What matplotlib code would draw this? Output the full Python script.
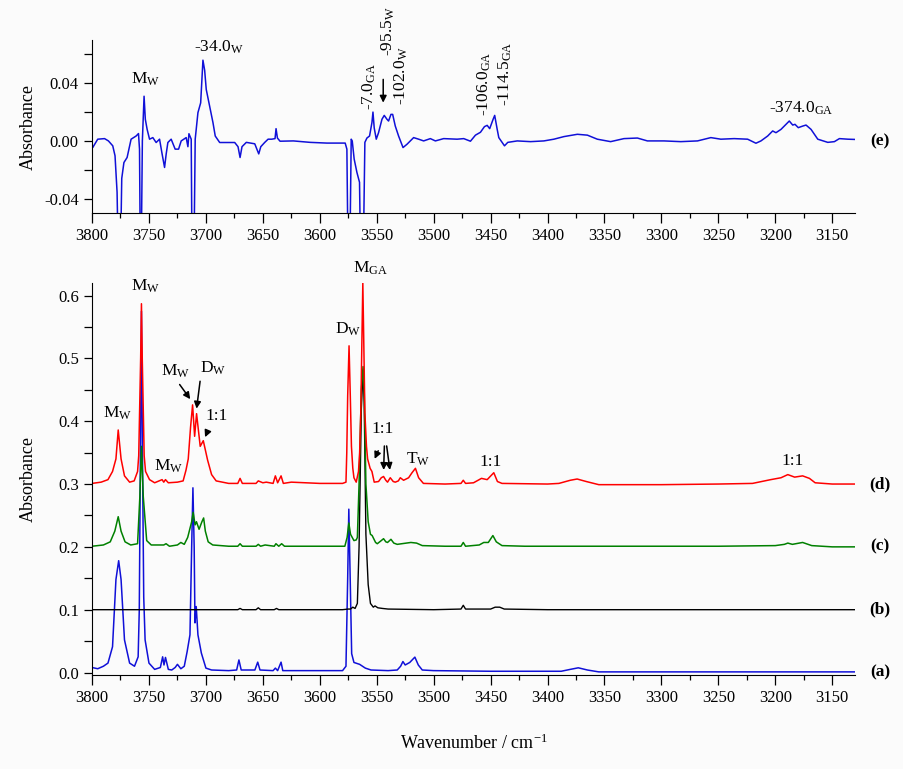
import numpy as np
import matplotlib
matplotlib.use('Agg')
from matplotlib import pyplot as plt
from matplotlib.ticker import MultipleLocator
import matplotlib.transforms as mtransforms

plt.rcParams['font.family'] = ['Liberation Serif', 'DejaVu Serif']
plt.rcParams['mathtext.fontset'] = 'custom'
plt.rcParams['mathtext.rm'] = 'Liberation Serif'
plt.rcParams['mathtext.it'] = 'Liberation Serif:italic'
plt.rcParams['axes.unicode_minus'] = False

# ---- (e) difference spectrum ----
wn_e = [3800, 3799.4, 3795, 3789, 3785.6, 3781.8, 3779.8, 3778, 3777, 3775, 3773.9, 3772, 3769.2,
        3765.7, 3761.3, 3759.2, 3758.3, 3757.6, 3756.8, 3755.8, 3754.3, 3753.2, 3751.6, 3749.5,
        3746.6, 3743.7, 3740.7, 3738.7, 3736.3, 3734.9, 3733.4, 3730.5, 3727, 3724, 3721.7, 3717.3,
        3715.8, 3714.9, 3712.9, 3712.2, 3710.5, 3709.4, 3707, 3704.6, 3702.6, 3701.1, 3699.7, 3696.7,
        3693.8, 3691.8, 3687.9, 3680.6, 3674.7, 3671.8, 3670, 3668.3, 3664.5, 3657.1, 3653.6, 3651.8,
        3648.3, 3645.4, 3642.2, 3639.3, 3638.4, 3637.2, 3634.9, 3623.2, 3608.5, 3593.8, 3577.7,
        3576.2, 3575.2, 3573.6, 3572.4, 3571.5, 3569.8, 3567.4, 3565.1, 3564.2, 3561.8, 3560.4,
        3558.6, 3556.3, 3554.2, 3553.3, 3552.2, 3550.4, 3548.4, 3545.4, 3543.4, 3541, 3539.6, 3537.5,
        3536, 3533.7, 3530.8, 3526.9, 3523.4, 3517.6, 3513.2, 3508.8, 3502.9, 3498.5, 3491.2, 3479.4,
        3473.6, 3467.7, 3463.3, 3458.9, 3455.4, 3453, 3450.8, 3447.8, 3446.4, 3444.2, 3442.8, 3439.8,
        3437.8, 3434.9, 3426.6, 3414.9, 3403.2, 3394.4, 3385.6, 3373.8, 3365, 3356.3, 3344.6, 3332.9,
        3321.1, 3312.3, 3297.7, 3283, 3268.3, 3256.6, 3247.8, 3236.1, 3224.3, 3217, 3212.6, 3206.7,
        3202.3, 3199.4, 3195, 3187.7, 3184.7, 3182.7, 3179.8, 3175.9, 3173, 3168.6, 3162.7, 3153.9,
        3148.1, 3143.7, 3136.3, 3129]
ab_e = [-0.004, -0.0046, 0.0012, 0.0016, 0.0, -0.0034, -0.0103, -0.0356, -0.08, -0.08, -0.026, -0.015,
        -0.0115, 0.0012, 0.0034, 0.0051, -0.0057, -0.08, -0.08, 0.0, 0.031, 0.015, 0.008, 0.0012,
        0.0023, -0.0011, 0.0012, -0.008, -0.0184, -0.0092, -0.0011, 0.0012, -0.0057, -0.0057, 0.0,
        0.0023, -0.004, 0.005, 0.0012, -0.08, -0.08, 0.0012, 0.0196, 0.0264, 0.056, 0.049, 0.0357,
        0.024, 0.0127, 0.0034, -0.0011, -0.0011, -0.0011, -0.004, -0.0115, -0.004, -0.001, -0.002,
        -0.009, -0.004, -0.001, 0.0012, 0.0012, 0.0016, 0.0085, 0.002, -0.0002, 0.0, -0.001, -0.0015,
        -0.0015, -0.0057, -0.08, -0.08, 0.0012, 0.0, -0.0126, -0.0218, -0.0287, -0.08, -0.08, -0.001,
        0.002, 0.0034, 0.0127, 0.02, 0.009, 0.0012, 0.0057, 0.015, 0.0177, 0.015, 0.0138, 0.0184,
        0.0184, 0.0103, 0.0034, -0.0046, -0.0023, 0.0023, 0.0012, 0.0, 0.0016, 0.0, 0.0016, 0.0012,
        0.0016, -0.0002, 0.004, 0.006, 0.0099, 0.0108, 0.0085, 0.015, 0.0177, 0.008, 0.0023, -0.0011,
        -0.0034, -0.001, 0.0, -0.0005, 0.0, 0.0012, 0.003, 0.0046, 0.004, 0.0012, -0.0005, 0.0016,
        0.002, 0.0, 0.0, -0.0005, 0.0, 0.0023, 0.0012, 0.0016, 0.0012, -0.0016, 0.0, 0.0034, 0.0069,
        0.0057, 0.008, 0.0138, 0.011, 0.0115, 0.0092, 0.0103, 0.011, 0.008, 0.0012, -0.001, -0.0005,
        0.0016, 0.0012, 0.001]

# ---- (a) ----
wn_a = [3800, 3795, 3790, 3786, 3782, 3779, 3776.6, 3774.5, 3771.5, 3767, 3762.7, 3759.5, 3758.5,
        3757.7, 3756.6, 3755.5, 3754.6, 3753.4, 3750, 3745, 3740, 3738, 3736.8, 3735.5, 3733, 3730,
        3727, 3725, 3722, 3719, 3716.5, 3714, 3712.5, 3711.4, 3710.3, 3709.6, 3708.5, 3707, 3704,
        3700, 3695, 3680, 3673, 3671, 3669, 3657, 3654.5, 3652.5, 3641, 3639, 3637, 3634, 3632.5,
        3620, 3600, 3580, 3577, 3575.5, 3574.5, 3573.3, 3572, 3570, 3565, 3560, 3555, 3540, 3532,
        3529, 3527, 3525, 3521, 3516.5, 3513.5, 3510, 3500, 3450, 3400, 3388, 3380, 3373, 3365, 3355,
        3300, 3250, 3200, 3150, 3130]
ab_a = [0.008, 0.006, 0.01, 0.015, 0.041, 0.148, 0.178, 0.148, 0.052, 0.015, 0.01, 0.025, 0.1,
        0.3, 0.575, 0.3, 0.12, 0.052, 0.015, 0.005, 0.008, 0.025, 0.012, 0.024, 0.005, 0.004,
        0.008, 0.013, 0.006, 0.01, 0.033, 0.06, 0.2, 0.294, 0.2, 0.079, 0.105, 0.06, 0.031,
        0.007, 0.004, 0.003, 0.004, 0.02, 0.004, 0.004, 0.0165, 0.004, 0.003, 0.007, 0.003, 0.0165, 0.003,
        0.003, 0.003, 0.003, 0.01, 0.15, 0.26, 0.15, 0.03, 0.016, 0.013, 0.007, 0.004, 0.003, 0.004,
        0.01, 0.0175, 0.012, 0.016, 0.0245, 0.012, 0.004, 0.003, 0.002, 0.002, 0.002, 0.005, 0.0075, 0.004, 0.001,
        0.001, 0.001, 0.001, 0.001, 0.001]

# ---- (b) ----
wn_b = [3800, 3700, 3672, 3670, 3668, 3656, 3654, 3652, 3640, 3638, 3636, 3580, 3575, 3573, 3571,
        3569, 3567, 3565.5, 3563.5, 3562, 3561, 3559.5, 3557.5, 3555.5, 3553, 3551.5, 3549, 3545,
        3540, 3500, 3476, 3474, 3472, 3450, 3446, 3442, 3438, 3400, 3300, 3200, 3130]
ab_b = [0.1, 0.1, 0.1, 0.102, 0.1, 0.1, 0.103, 0.1, 0.1, 0.102, 0.1, 0.1, 0.101, 0.101, 0.104,
        0.102, 0.11, 0.2, 0.42, 0.48, 0.43, 0.22, 0.14, 0.11, 0.104, 0.106, 0.103, 0.102,
        0.101, 0.1, 0.101, 0.107, 0.101, 0.101, 0.104, 0.104, 0.101, 0.1, 0.1, 0.1, 0.1]

# ---- (c) ----
wn_c = [3800, 3790, 3784, 3780, 3777, 3774.5, 3771, 3766, 3760, 3758, 3756.6, 3755, 3752, 3748,
        3737, 3735, 3732, 3725, 3722, 3719, 3716, 3712.5, 3711.2, 3709.5, 3708.3, 3706, 3703.5,
        3702, 3700.5, 3698, 3694, 3680, 3672, 3670, 3668, 3656, 3654, 3652, 3648, 3640, 3638.5,
        3636, 3633.5, 3631, 3600, 3578, 3576, 3574.5, 3573, 3570, 3568, 3567, 3565.5, 3563.5, 3562,
        3561, 3559.5, 3557.5, 3555.5, 3554, 3551, 3549.5, 3546, 3544, 3542, 3540.5, 3537.5, 3535,
        3532, 3528, 3520, 3515, 3510, 3490, 3476, 3474, 3472, 3460, 3456, 3452, 3448, 3445, 3440,
        3420, 3380, 3300, 3250, 3200, 3192, 3189, 3185, 3176, 3168, 3150, 3130]
ab_c = [0.201, 0.203, 0.208, 0.225, 0.248, 0.225, 0.208, 0.203, 0.205, 0.28, 0.36, 0.28, 0.21, 0.203,
        0.203, 0.205, 0.201, 0.203, 0.207, 0.204, 0.215, 0.24, 0.255, 0.235, 0.24, 0.228, 0.24,
        0.246, 0.225, 0.208, 0.203, 0.201, 0.201, 0.205, 0.201, 0.201, 0.204, 0.201, 0.203, 0.201, 0.205,
        0.201, 0.205, 0.201, 0.201, 0.201, 0.215, 0.238, 0.22, 0.21, 0.211, 0.215, 0.3, 0.45, 0.487,
        0.45, 0.3, 0.24, 0.22, 0.218, 0.207, 0.205, 0.21, 0.213, 0.208, 0.207, 0.212, 0.206,
        0.204, 0.205, 0.207, 0.206, 0.202, 0.201, 0.201, 0.207, 0.201, 0.203, 0.207, 0.207, 0.218, 0.208, 0.202,
        0.201, 0.201, 0.201, 0.201, 0.202, 0.204, 0.206, 0.204, 0.207, 0.202, 0.2, 0.2]

# ---- (d) ----
wn_d = [3800, 3792, 3786, 3782, 3779, 3777, 3774.5, 3771.5, 3767, 3763, 3760, 3759, 3757.3, 3756.6,
        3755.9, 3754.2, 3753, 3749.5, 3745, 3738.5, 3737, 3735.5, 3733, 3725, 3720, 3717.5, 3715.5,
        3713.5, 3711.7, 3709.9, 3708.2, 3705, 3702.3, 3698.5, 3695, 3691, 3680, 3672, 3670, 3668,
        3656, 3654, 3650, 3647, 3641, 3639, 3637, 3634, 3632, 3625, 3600, 3580, 3577, 3576.3, 3575.5,
        3574.3, 3573.2, 3572.2, 3571, 3570, 3568, 3566, 3565, 3564, 3563, 3562.2, 3561.4, 3560.4,
        3559, 3558, 3555.8, 3554.2, 3552.2, 3548.4, 3546, 3544, 3542, 3540.5, 3538.1, 3535.5, 3533.7,
        3531, 3529.3, 3526.4, 3522, 3519, 3516, 3513.2, 3509, 3490, 3476, 3474, 3472, 3465, 3458,
        3453, 3447.2, 3444, 3440, 3400, 3390, 3380, 3374, 3366, 3355, 3300, 3250, 3220, 3204, 3195,
        3189, 3186, 3183, 3176, 3170, 3165, 3150, 3130]
ab_d = [0.301, 0.303, 0.307, 0.32, 0.34, 0.386, 0.34, 0.313, 0.303, 0.305, 0.32, 0.345, 0.5, 0.587,
        0.5, 0.345, 0.32, 0.307, 0.302, 0.307, 0.303, 0.307, 0.302, 0.303, 0.305, 0.322, 0.34,
        0.39, 0.426, 0.376, 0.412, 0.36, 0.369, 0.338, 0.315, 0.305, 0.301, 0.301, 0.309, 0.301,
        0.301, 0.305, 0.302, 0.303, 0.301, 0.313, 0.302, 0.313, 0.301, 0.303, 0.301, 0.301, 0.303, 0.35, 0.44,
        0.52, 0.44, 0.36, 0.325, 0.31, 0.303, 0.32, 0.35, 0.413, 0.53, 0.62, 0.53, 0.413,
        0.36, 0.34, 0.325, 0.32, 0.303, 0.304, 0.31, 0.312, 0.306, 0.303, 0.31, 0.304, 0.303,
        0.305, 0.31, 0.306, 0.31, 0.318, 0.325, 0.31, 0.301, 0.3, 0.301, 0.306, 0.301, 0.302, 0.309,
        0.307, 0.318, 0.304, 0.301, 0.3, 0.301, 0.306, 0.308, 0.304, 0.299, 0.299, 0.3, 0.301, 0.307, 0.31,
        0.315, 0.313, 0.311, 0.313, 0.309, 0.302, 0.3, 0.3]

bg = '#fbfbfb'
fig = plt.figure(figsize=(9.04, 7.69), dpi=100, facecolor=bg)
ax1 = fig.add_axes([0.1018, 0.723, 0.844, 0.225], facecolor=bg)
ax2 = fig.add_axes([0.1018, 0.1222, 0.844, 0.5098], facecolor=bg)

ax1.plot(wn_e, ab_e, color='#1010d8', lw=1.1)
ax2.plot(wn_a, ab_a, color='#1010d8', lw=1.1)
ax2.plot(wn_b, ab_b, color='black', lw=1.0)
ax2.plot(wn_c, ab_c, color='#008000', lw=1.1)
ax2.plot(wn_d, ab_d, color='#ff0000', lw=1.1)

for ax in (ax1, ax2):
    ax.set_xlim(3800, 3130)
    ax.spines['top'].set_visible(False)
    ax.spines['right'].set_visible(False)
    ax.xaxis.set_major_locator(MultipleLocator(50))
    ax.xaxis.set_minor_locator(MultipleLocator(25))
    ax.tick_params(axis='x', which='major', direction='out', length=7, width=0.9, labelsize=12)
    ax.tick_params(axis='x', which='minor', direction='out', length=3.5, width=0.9)
    ax.tick_params(axis='y', which='both', direction='out', length=6, width=0.9, labelsize=12)
    ax.set_ylabel('Absorbance', fontsize=13)

ax1.set_ylim(-0.05, 0.07)
ax1.yaxis.set_major_locator(MultipleLocator(0.04))
ax1.yaxis.set_minor_locator(MultipleLocator(0.02))
ax1.yaxis.set_major_formatter(plt.FormatStrFormatter('%.2f'))
ax1.yaxis.set_label_coords(-0.072, 0.5)

ax2.set_ylim(-0.004, 0.62)
ax2.yaxis.set_major_locator(MultipleLocator(0.1))
ax2.yaxis.set_minor_locator(MultipleLocator(0.05))
ax2.yaxis.set_major_formatter(plt.FormatStrFormatter('%.1f'))
ax2.yaxis.set_label_coords(-0.072, 0.5)
ax2.set_xlabel(r'Wavenumber / cm$^\mathregular{-1}$', fontsize=13, labelpad=20)

fs = 12.5
# top panel labels
ax1.text(3752.8, 0.0425, r'$\mathregular{M_W}$', fontsize=fs, ha='center', va='center')
ax1.text(3689, 0.0646, r'-34.0$\mathregular{_W}$', fontsize=fs, ha='center', va='center', clip_on=False)
ax1.text(3556.6, 0.0215, r'-7.0$\mathregular{_{GA}}$', fontsize=fs, rotation=90, ha='center', va='bottom')
ax1.text(3539.5, 0.059, r'-95.5$\mathregular{_W}$', fontsize=fs, rotation=90, ha='center', va='bottom',
         clip_on=False)
ax1.text(3528.4, 0.025, r'-102.0$\mathregular{_W}$', fontsize=fs, rotation=90, ha='center', va='bottom')
ax1.text(3455.4, 0.0175, r'-106.0$\mathregular{_{GA}}$', fontsize=fs, rotation=90, ha='center', va='bottom')
ax1.text(3437, 0.024, r'-114.5$\mathregular{_{GA}}$', fontsize=fs, rotation=90, ha='center', va='bottom')
ax1.text(3177.5, 0.0225, r'-374.0$\mathregular{_{GA}}$', fontsize=fs, ha='center', va='center')
ax1.annotate('', xy=(3544.3, 0.0246), xytext=(3544.3, 0.0446),
             arrowprops=dict(arrowstyle='-|>', color='black', lw=1.1, mutation_scale=10))

# bottom panel labels
ax2.text(3778, 0.412, r'$\mathregular{M_W}$', fontsize=fs, ha='center', va='center')
ax2.text(3753, 0.614, r'$\mathregular{M_W}$', fontsize=fs, ha='center', va='center', clip_on=False)
ax2.text(3732.8, 0.329, r'$\mathregular{M_W}$', fontsize=fs, ha='center', va='center')
ax2.text(3726.8, 0.48, r'$\mathregular{M_W}$', fontsize=fs, ha='center', va='center')
ax2.text(3693.8, 0.485, r'$\mathregular{D_W}$', fontsize=fs, ha='center', va='center')
ax2.text(3691, 0.409, '1:1', fontsize=fs, ha='center', va='center')
ax2.text(3575.2, 0.546, r'$\mathregular{D_W}$', fontsize=fs, ha='center', va='center')
ax2.text(3555.8, 0.644, r'$\mathregular{M_{GA}}$', fontsize=fs, ha='center', va='center', clip_on=False)
ax2.text(3544.7, 0.388, '1:1', fontsize=fs, ha='center', va='center')
ax2.text(3513.9, 0.34, r'$\mathregular{T_W}$', fontsize=fs, ha='center', va='center')
ax2.text(3450, 0.335, '1:1', fontsize=fs, ha='center', va='center')
ax2.text(3184.7, 0.336, '1:1', fontsize=fs, ha='center', va='center')

arrows = [((3712.3, 0.4315), (3724.5, 0.462)),
          ((3708.5, 0.4156), (3704.8, 0.468)),
          ((3701.7, 0.3705), (3697.8, 0.387)),
          ((3552.8, 0.336), (3547.7, 0.357)),
          ((3544.0, 0.318), (3543.2, 0.365)),
          ((3538.1, 0.318), (3541.6, 0.365))]
for tip, start in arrows:
    ax2.annotate('', xy=tip, xytext=start,
                 arrowprops=dict(arrowstyle='-|>', color='black', lw=1.1, mutation_scale=10))

# trace names
trans1 = mtransforms.blended_transform_factory(ax1.transAxes, ax1.transData)
ax1.text(1.033, 0.0, '(e)', transform=trans1, fontsize=12.5, fontweight='bold', ha='center', va='center',
         clip_on=False)
trans2 = mtransforms.blended_transform_factory(ax2.transAxes, ax2.transData)
for lab, yv in zip(['(a)', '(b)', '(c)', '(d)'], [0.0, 0.1, 0.2, 0.3]):
    ax2.text(1.033, yv, lab, transform=trans2, fontsize=12.5, fontweight='bold', ha='center', va='center',
             clip_on=False)

plt.savefig('out.png', dpi=100, facecolor=bg)
